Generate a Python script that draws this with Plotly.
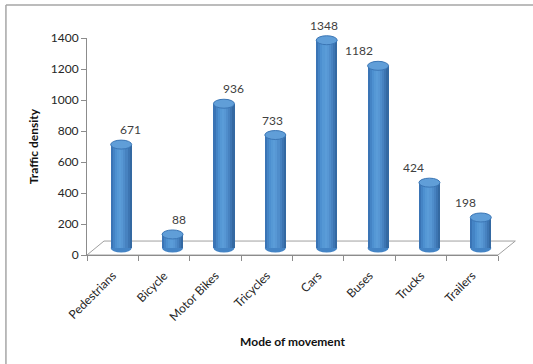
import plotly.graph_objects as go

categories = ["Pedestrians", "Bicycle", "Motor Bikes", "Tricycles", "Cars", "Buses", "Trucks", "Trailers"]
values = [671, 88, 936, 733, 1348, 1182, 424, 198]
y_ticks = [0, 200, 400, 600, 800, 1000, 1200, 1400]

FONT = "Lato"
W, H = 533, 364
L, R, T, B = 87, 35.3, 38, 108.5
PW = W - L - R
PH = H - T - B
cat_px = PW / len(categories)

# depth offsets (middle plane of the 3D chart)
dx_px, dy_px = 8.5, 7
x2_shift = dx_px / cat_px
y2_range = [-dy_px / 0.1545, (PH - dy_px) / 0.1545]
x2_range = [-0.5 - x2_shift, 7.5 - x2_shift]

cyl_w = 21 / cat_px
ell_h = 9 * (y2_range[1] - y2_range[0]) / PH


def px_x(xv):  # x2 data -> paper
    return (xv - x2_range[0]) / (x2_range[1] - x2_range[0])


def px_y(yv):  # y2 data -> paper
    return (yv - y2_range[0]) / (y2_range[1] - y2_range[0])


strip_colors = ["#3a74b5", "#4484c5", "#4d90d0", "#5598d5", "#5a9cd8",
                "#5797d4", "#4f8dcb", "#4782c0", "#3d75b2", "#3469a2"]
n = len(strip_colors)

fig = go.Figure()
for k, c in enumerate(strip_colors):
    fig.add_trace(go.Bar(
        x=list(range(len(categories))), y=values, xaxis="x2", yaxis="y2",
        width=cyl_w / n * 1.03, offset=-cyl_w / 2 + k * cyl_w / n,
        marker=dict(color=c, line=dict(width=0)), showlegend=False, hoverinfo="skip"))

# dummy trace for main axes
fig.add_trace(go.Scatter(x=categories, y=[None] * len(categories), xaxis="x", yaxis="y",
                         showlegend=False, hoverinfo="skip"))

shapes = []
# chart border (left and top)
bx = (6 - L) / PW
by = (H - B - 5) / PH
shapes.append(dict(type="line", xref="paper", yref="paper", x0=bx, y0=by, x1=(W - L) / PW + 0.01, y1=by,
                   line=dict(color="#a6a6a6", width=1.5)))
shapes.append(dict(type="line", xref="paper", yref="paper", x0=bx, y0=by, x1=bx, y1=-B / PH - 0.01,
                   line=dict(color="#a6a6a6", width=1.5)))
# floor
bxl, bxr, byb = (104 - L) / PW, (515 - L) / PW, 14 / PH
shapes.append(dict(type="path", xref="paper", yref="paper",
                   path=f"M 0,0 L 1,0 L {bxr},{byb} L {bxl},{byb} Z",
                   line=dict(color="#a0a0a0", width=1), fillcolor="rgba(0,0,0,0)", layer="below"))
for i, v in enumerate(values):
    shapes.append(dict(type="circle", xref="paper", yref="paper", layer="below",
                       x0=px_x(i - cyl_w / 2), x1=px_x(i + cyl_w / 2),
                       y0=px_y(-ell_h / 2), y1=px_y(ell_h / 2),
                       fillcolor="#4484c5", line=dict(width=0)))
    shapes.append(dict(type="circle", xref="paper", yref="paper", layer="above",
                       x0=px_x(i - cyl_w / 2), x1=px_x(i + cyl_w / 2),
                       y0=px_y(v - ell_h / 2), y1=px_y(v + ell_h / 2),
                       fillcolor="#609ed8", line=dict(color="#3b76b5", width=1)))

annotations = []
for i, v in enumerate(values):
    annotations.append(dict(x=px_x(i), y=px_y(v + ell_h / 2), xref="paper", yref="paper", text=str(v),
                            showarrow=False, yanchor="bottom", yshift=1, xshift=-3,
                            font=dict(family=FONT, size=12, color="#404040")))

fig.update_layout(
    width=W, height=H, margin=dict(l=L, r=R, t=T, b=B),
    paper_bgcolor="white", plot_bgcolor="rgba(0,0,0,0)",
    barmode="overlay", bargap=0,
    font=dict(family=FONT, size=12, color="#262626"),
    shapes=shapes, annotations=annotations,
    xaxis=dict(type="category", range=[-0.5, 7.5], showline=True, linecolor="#8c8c8c", linewidth=1,
               ticks="outside", tickson="boundaries", ticklen=5, tickcolor="#8c8c8c",
               tickangle=-45, showgrid=False, zeroline=False, ticklabelstandoff=8,
               tickfont=dict(family=FONT, size=12, color="#262626"),
               title=dict(text="<b>Mode of movement</b>", font=dict(family=FONT, size=12, color="#111"),
                          standoff=14)),
    yaxis=dict(range=[0, 1400], tickvals=y_ticks, showline=True, linecolor="#8c8c8c", linewidth=1,
               ticks="outside", ticklen=5, tickcolor="#8c8c8c", showgrid=False, zeroline=False,
               tickfont=dict(family=FONT, size=12, color="#262626"),
               title=dict(text="<b>Traffic density</b>", font=dict(family=FONT, size=12, color="#111"),
                          standoff=9)),
    xaxis2=dict(overlaying="x", range=x2_range, visible=False),
    yaxis2=dict(overlaying="y", range=y2_range, visible=False),
)

fig.write_html("out.html")
